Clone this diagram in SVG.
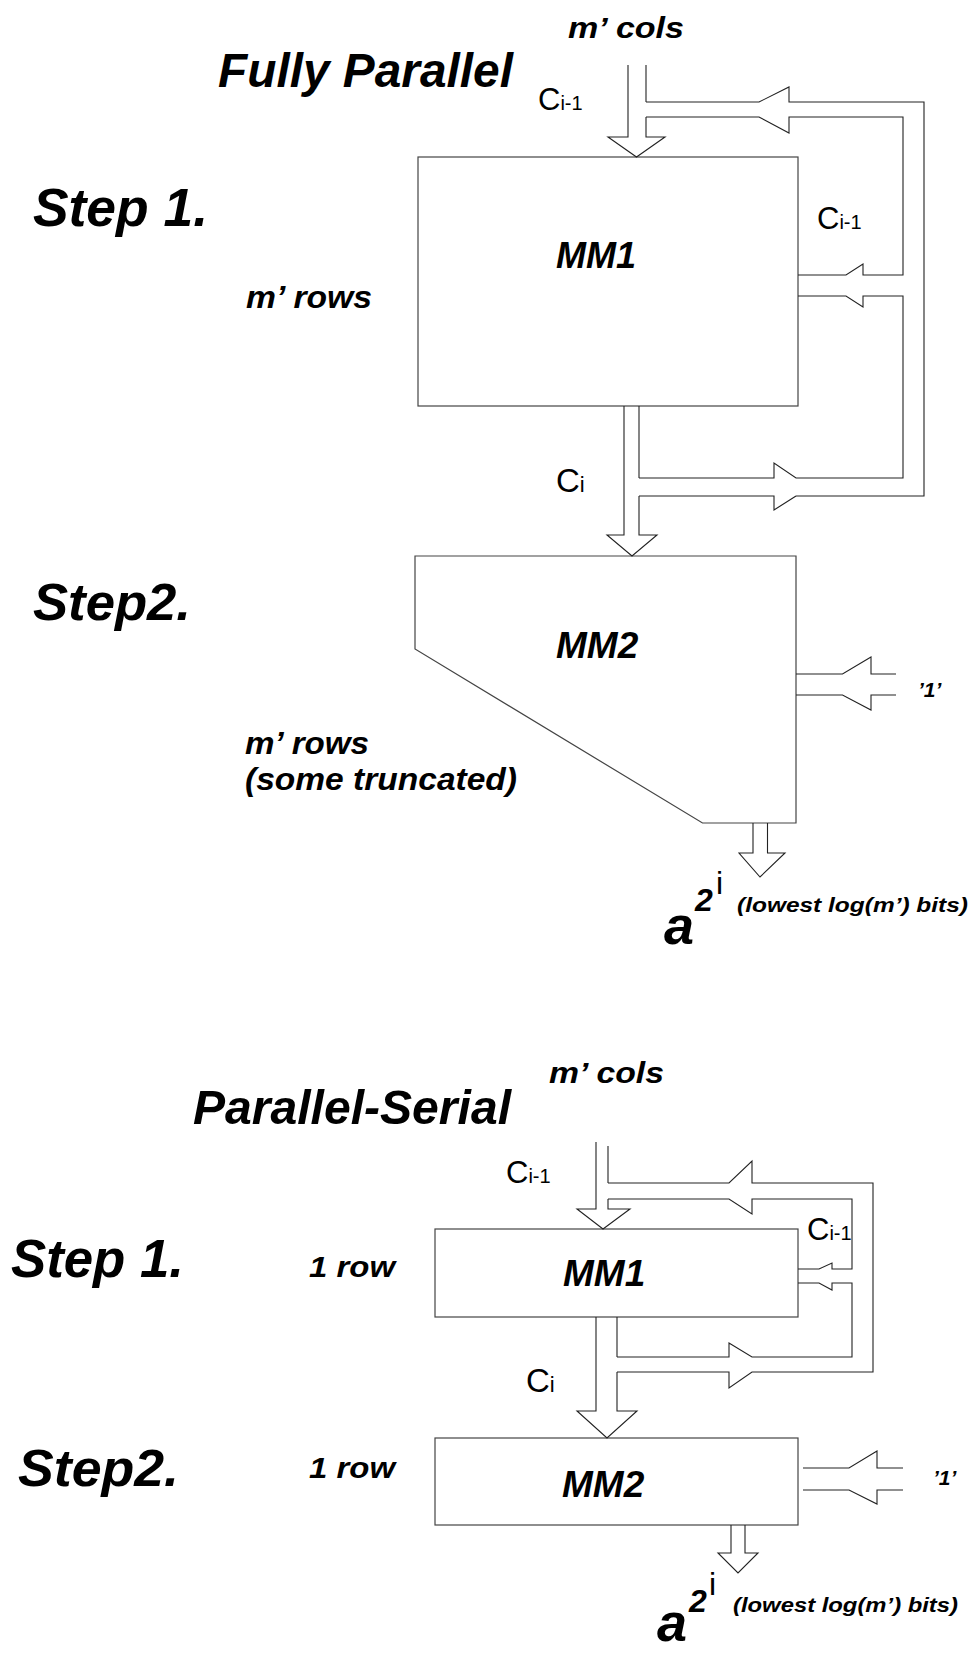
<svg xmlns="http://www.w3.org/2000/svg" width="974" height="1654" viewBox="0 0 974 1654">
<style>
.bg{fill:#fff}
.box{fill:#fff;stroke:#444;stroke-width:1.2}
.ln{fill:none;stroke:#222;stroke-width:1.1;stroke-linejoin:miter}
.bi{font-family:"Liberation Sans",Arial,sans-serif;font-weight:bold;font-style:italic;fill:#000}
.rg{font-family:"Liberation Sans",Arial,sans-serif;font-weight:normal;fill:#000}
</style>
<rect class="bg" x="0" y="0" width="974" height="1654"/>

<!-- ===== Fully Parallel ===== -->
<g id="title1"><text class="bi" x="218" y="87" font-size="48" textLength="295" lengthAdjust="spacingAndGlyphs">Fully Parallel</text></g>
<g id="step1a"><text class="bi" x="33" y="226" font-size="54" textLength="175" lengthAdjust="spacingAndGlyphs">Step 1.</text></g>
<g id="step2a"><text class="bi" x="33" y="620" font-size="52" textLength="158" lengthAdjust="spacingAndGlyphs">Step2.</text></g>
<g id="cols1"><text class="bi" x="568" y="38" font-size="29" textLength="116" lengthAdjust="spacingAndGlyphs">m’ cols</text></g>
<g id="rows1"><text class="bi" x="246" y="308" font-size="31" textLength="126" lengthAdjust="spacingAndGlyphs">m’ rows</text></g>
<g id="rows2"><text class="bi" x="245" y="754" font-size="31" textLength="124" lengthAdjust="spacingAndGlyphs">m’ rows</text>
<text class="bi" x="245" y="790" font-size="31" textLength="272" lengthAdjust="spacingAndGlyphs">(some truncated)</text></g>

<g id="mm1a">
<rect class="box" x="418" y="157" width="380" height="249"/>
<text class="bi" x="556" y="268" font-size="36">MM1</text>
</g>
<g id="mm2a">
<path class="box" d="M415,556 H796 V823 H702.5 L415,649 Z"/>
<text class="bi" x="556" y="658" font-size="37">MM2</text>
</g>

<g id="labels1">
<text class="rg" x="538" y="110" font-size="31">C<tspan font-size="20">i-1</tspan></text>
<text class="rg" x="817" y="229" font-size="31">C<tspan font-size="20">i-1</tspan></text>
<text class="rg" x="556" y="492" font-size="33">C<tspan font-size="22">i</tspan></text>
<text class="bi" x="918" y="697" font-size="21">’1’</text>
<text class="bi" x="664" y="944" font-size="54">a</text>
<text class="bi" x="695" y="911" font-size="32">2</text>
<text class="rg" x="716" y="894" font-size="32">i</text>
<text class="bi" x="737" y="912" font-size="21" textLength="231" lengthAdjust="spacingAndGlyphs">(lowest log(m’) bits)</text>
</g>

<g id="connectors1">
<path class="ln" d="M628,65 V137 H608 L636.5,157 L665,137 H646 V117"/>
<path class="ln" d="M646,65 V102"/>
<path class="ln" d="M646,102 H759 L789,87 V102 H924 V496 H796"/>
<path class="ln" d="M646,117 H759 L789,133 V117 H903 V275 H863 V264 L846,275 H798"/>
<path class="ln" d="M798,296 H846 L863,307 V296 H903 V478 H796 L774,463 V478 H639"/>
<path class="ln" d="M796,496 L774,510 V496 H639"/>
<path class="ln" d="M624,406 V535 H607 L632,556 L657,535 H639 V496"/>
<path class="ln" d="M639,406 V478"/>
<path class="ln" d="M796,674 H842.5 L871,657 V674 H896"/>
<path class="ln" d="M796,695 H842.5 L871,710 V695 H896"/>
<path class="ln" d="M753,823 V853 H739 L760,877 L785,853 H767.5 V823"/>
</g>

<!-- ===== Parallel-Serial ===== -->
<g id="title2"><text class="bi" x="193" y="1124" font-size="48" textLength="318" lengthAdjust="spacingAndGlyphs">Parallel-Serial</text></g>
<g id="step1b"><text class="bi" x="11" y="1277" font-size="54" textLength="173" lengthAdjust="spacingAndGlyphs">Step 1.</text></g>
<g id="step2b"><text class="bi" x="18" y="1486" font-size="52" textLength="161" lengthAdjust="spacingAndGlyphs">Step2.</text></g>
<g id="cols2"><text class="bi" x="549" y="1083" font-size="29" textLength="115" lengthAdjust="spacingAndGlyphs">m’ cols</text></g>
<g id="row1"><text class="bi" x="309" y="1277" font-size="30" textLength="86" lengthAdjust="spacingAndGlyphs">1 row</text></g>
<g id="row2"><text class="bi" x="309" y="1478" font-size="30" textLength="86" lengthAdjust="spacingAndGlyphs">1 row</text></g>

<g id="mm1b">
<rect class="box" x="435" y="1229" width="363" height="88"/>
<text class="bi" x="563" y="1286" font-size="37">MM1</text>
</g>
<g id="mm2b">
<rect class="box" x="435" y="1438" width="363" height="87"/>
<text class="bi" x="562" y="1497" font-size="37">MM2</text>
</g>

<g id="labels2">
<text class="rg" x="506" y="1183" font-size="31">C<tspan font-size="20">i-1</tspan></text>
<text class="rg" x="807" y="1240" font-size="31">C<tspan font-size="20">i-1</tspan></text>
<text class="rg" x="526" y="1392" font-size="33">C<tspan font-size="22">i</tspan></text>
<text class="bi" x="933" y="1485" font-size="21">’1’</text>
<text class="bi" x="657" y="1641" font-size="54">a</text>
<text class="bi" x="689" y="1612" font-size="32">2</text>
<text class="rg" x="709" y="1595" font-size="32">i</text>
<text class="bi" x="733" y="1612" font-size="21" textLength="225" lengthAdjust="spacingAndGlyphs">(lowest log(m’) bits)</text>
</g>

<g id="connectors2">
<path class="ln" d="M596,1142 V1209 H577 L603,1229 L630,1209 H608 V1199"/>
<path class="ln" d="M608,1146 V1183"/>
<path class="ln" d="M608,1183 H729 L752,1161 V1183 H873 V1372 H752 L729,1388 V1372 H617"/>
<path class="ln" d="M608,1199 H729 L752,1214 V1199 H852 V1269 H832 V1263 L819,1269 H798"/>
<path class="ln" d="M798,1283 H819 L832,1290 V1283 H852 V1357 H752 L729,1343 V1357 H617"/>
<path class="ln" d="M596,1317 V1411 H577 L607,1438 L637,1411 H617 V1372"/>
<path class="ln" d="M617,1317 V1357"/>
<path class="ln" d="M803,1468 H849 L877,1451 V1468 H903"/>
<path class="ln" d="M803,1490 H849 L877,1504 V1490 H903"/>
<path class="ln" d="M731,1525 V1553 H718 L738,1573 L758,1553 H745 V1525"/>
</g>
</svg>
